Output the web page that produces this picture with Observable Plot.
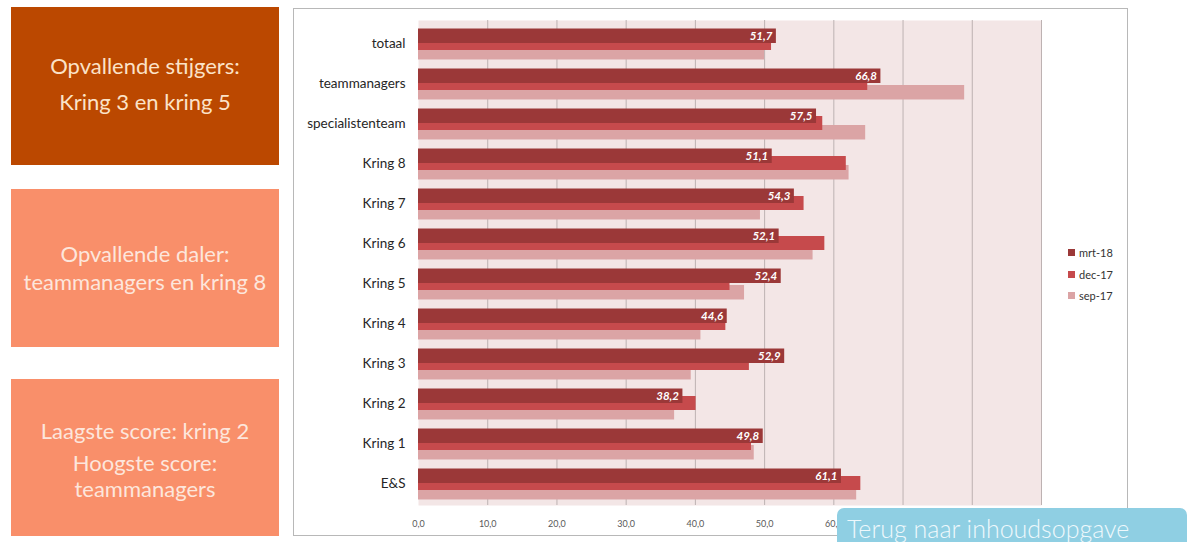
<!DOCTYPE html>
<html>
<head>
<meta charset="utf-8">
<script src="https://cdn.jsdelivr.net/npm/d3@7"></script>
<script src="https://cdn.jsdelivr.net/npm/@observablehq/plot@0.6"></script>
<style>
  html, body { margin: 0; padding: 0; background: #ffffff; width: 1191px; height: 542px; overflow: hidden; position: relative; font-family: Lato, "Open Sans", sans-serif; }
  .panel { position: absolute; left: 11px; width: 268px; display: flex; flex-direction: column; justify-content: center; align-items: center; text-align: center; font-family: Lato, sans-serif; font-size: 22px; white-space: nowrap; }
  #p1 { top: 7px; height: 158px; background: #bb4800; color: #fbe3c8; line-height: 36px; padding-bottom: 4px; box-sizing: border-box; }
  #p2 { top: 189px; height: 158px; background: #f98f6a; color: #fde6dc; line-height: 28px; }
  #p3 { top: 379px; height: 157px; background: #f98f6a; color: #fde6dc; }
  #p3 .l1 { line-height: 36px; margin-bottom: 1px; }
  #p3 .l2 { line-height: 26px; }
  #frame { position: absolute; left: 293px; top: 8px; width: 833px; height: 526px; border: 1px solid #b8b8b8; box-sizing: content-box; }
  #chart { position: absolute; left: 293px; top: 8px; }
  #legend { position: absolute; left: 1068px; top: 242px; font-family: Lato, sans-serif; font-size: 11px; color: #333; }
  #legend .row { display: flex; align-items: center; height: 21.5px; }
  #legend .sw { width: 7px; height: 7px; margin-right: 4px; }
  #btn { position: absolute; left: 837px; top: 508px; width: 350px; height: 44px; background: #8fcfe3; border-radius: 7px; color: #eef8fc; font-family: Lato, sans-serif; font-weight: 300; font-size: 25px; padding-left: 10px; box-sizing: border-box; line-height: 40px; overflow: hidden; white-space: nowrap; }
</style>
</head>
<body>
<div class="panel" id="p1"><div>Opvallende stijgers:</div><div>Kring 3 en kring 5</div></div>
<div class="panel" id="p2"><div>Opvallende daler:</div><div>teammanagers en kring 8</div></div>
<div class="panel" id="p3"><div class="l1">Laagste score: kring 2</div><div class="l2">Hoogste score:</div><div class="l2">teammanagers</div></div>
<div id="frame"></div>
<div id="chart"></div>
<div id="legend"></div>
<div id="btn">Terug naar inhoudsopgave</div>
<script>
const categories = ["totaal", "teammanagers", "specialistenteam", "Kring 8", "Kring 7", "Kring 6", "Kring 5", "Kring 4", "Kring 3", "Kring 2", "Kring 1", "E&S"];
const series = ["mrt-18", "dec-17", "sep-17"];
const mrt18 = [51.7, 66.8, 57.5, 51.1, 54.3, 52.1, 52.4, 44.6, 52.9, 38.2, 49.8, 61.1];
const dec17 = [51.0, 64.9, 58.4, 61.8, 55.7, 58.7, 45.0, 44.4, 47.8, 40.1, 48.1, 63.9];
const sep17 = [50.0, 78.9, 64.6, 62.2, 49.4, 57.0, 47.1, 40.8, 39.4, 37.0, 48.5, 63.3];
const gridTicks = [10, 20, 30, 40, 50, 60, 70, 80, 90];
const labelTicks = [0, 10, 20, 30, 40, 50, 60]; // 70–90 are hidden behind the button in the reference
const colors = {"mrt-18": "#9b3838", "dec-17": "#c64a4c", "sep-17": "#dba4a5"};

const rows = (vals) => categories.map((c, i) => ({category: c, value: vals[i]}));
const dMrt = rows(mrt18), dDec = rows(dec17), dSep = rows(sep17);
const fmt = (v) => v.toFixed(1).replace(".", ",");

const chart = Plot.plot({
  width: 834,
  height: 527,
  marginLeft: 125,
  marginRight: 86,
  marginTop: 12,
  marginBottom: 30,
  style: {background: "transparent", fontFamily: "Lato, sans-serif"},
  x: {domain: [0, 90], label: null},
  y: {domain: categories, padding: 0, label: null},
  marks: [
    Plot.frame({fill: "#f3e6e6", stroke: null}),
    Plot.gridX(gridTicks, {stroke: "#bdb2b2", strokeOpacity: 1, strokeWidth: 1}),
    Plot.barX(dSep, {x: "value", y: "category", fill: colors["sep-17"], insetTop: 22, insetBottom: 3.5}),
    Plot.barX(dDec, {x: "value", y: "category", fill: colors["dec-17"], insetTop: 13, insetBottom: 13}),
    Plot.barX(dMrt, {x: "value", y: "category", fill: colors["mrt-18"], insetTop: 5.5, insetBottom: 20}),
    Plot.text(dMrt, {x: "value", y: "category", text: d => fmt(d.value), dx: -4, dy: -7.2, textAnchor: "end", fill: "#ffffff", fontWeight: "bold", fontStyle: "italic", fontSize: 11.5}),
    Plot.axisX({ticks: labelTicks, tickFormat: fmt, tickSize: 0, tickPadding: 15, fontSize: 9, fill: "#595959", label: null}),
    Plot.axisY({tickSize: 0, tickPadding: 13, fontSize: 13.5, fill: "#262626", label: null})
  ]
});
document.getElementById("chart").appendChild(chart);

const legend = document.getElementById("legend");
series.forEach(s => {
  const r = document.createElement("div");
  r.className = "row";
  const sw = document.createElement("div");
  sw.className = "sw";
  sw.style.background = colors[s];
  const t = document.createElement("span");
  t.textContent = s;
  r.appendChild(sw); r.appendChild(t);
  legend.appendChild(r);
});
</script>
</body>
</html>
